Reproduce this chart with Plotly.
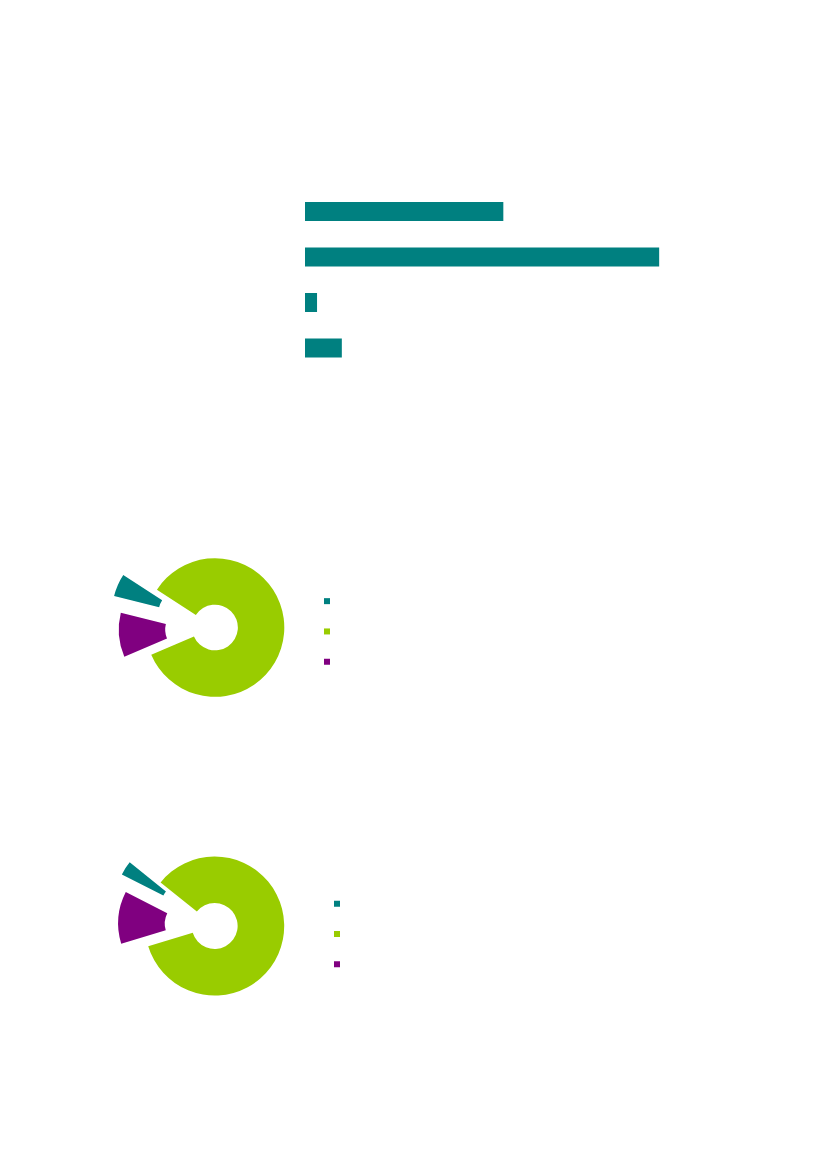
import plotly.graph_objects as go

# bar chart (top)
bar_categories = ["1", "2", "3", "4"]
bar_values = [28.0, 50.0, 1.7, 5.2]

# donut charts
slice_labels = ["A", "B", "C"]
donut1_values = [5.3, 84.4, 10.3]
donut2_values = [3.3, 84.5, 12.2]
slice_colors = ["#008080", "#99CC00", "#800080"]
slice_pull = [0.53, 0, 0.39]

W, H = 827, 1169
OFF = 8  # page margin of the html body


def px_x(v):
    return (v - OFF) / W


def px_y(v):
    return 1 - (v - OFF) / H


fig = go.Figure()

fig.add_trace(go.Bar(
    x=bar_values, y=bar_categories, orientation="h",
    marker=dict(color="#008080", line=dict(width=0)),
    showlegend=False, hoverinfo="skip",
))


def add_donut(values, cx, cy, r, rotation):
    half = r * (1 + max(slice_pull))
    fig.add_trace(go.Pie(
        labels=slice_labels, values=values, sort=False, direction="clockwise",
        rotation=rotation, hole=0.33, pull=slice_pull, textinfo="none",
        marker=dict(colors=slice_colors, line=dict(width=0)),
        domain=dict(x=[px_x(cx - half), px_x(cx + half)],
                    y=[px_y(cy + half), px_y(cy - half)]),
        showlegend=False, hoverinfo="skip",
    ))


add_donut(donut1_values, 215, 627.5, 69.3, -76)
add_donut(donut2_values, 214.7, 926, 69.5, -63)

# legend swatches for the two donuts
for legend_id in ["legend", "legend2"]:
    for lab, col in zip(slice_labels, slice_colors):
        fig.add_trace(go.Scatter(
            x=[None], y=[None], mode="markers", name=" ",
            marker=dict(symbol="square", size=6, color=col),
            legend=legend_id, showlegend=True,
        ))

legend_style = dict(font=dict(size=21, color="#ffffff"), bgcolor="rgba(0,0,0,0)",
                    borderwidth=0, xanchor="left", yanchor="middle",
                    itemclick=False, itemdoubleclick=False)

fig.update_layout(
    width=W, height=H,
    margin=dict(l=0, r=0, t=0, b=0),
    paper_bgcolor="white", plot_bgcolor="white",
    bargap=0.58,
    xaxis=dict(domain=[px_x(305), px_x(730)], range=[0, 60], visible=False, fixedrange=True),
    yaxis=dict(domain=[px_y(370.75), px_y(188.75)], autorange="reversed",
               visible=False, fixedrange=True),
    legend=dict(x=px_x(327 - 20), y=px_y(631.5), **legend_style),
    legend2=dict(x=px_x(337 - 20), y=px_y(934), **legend_style),
)

fig.write_html("out.html")
